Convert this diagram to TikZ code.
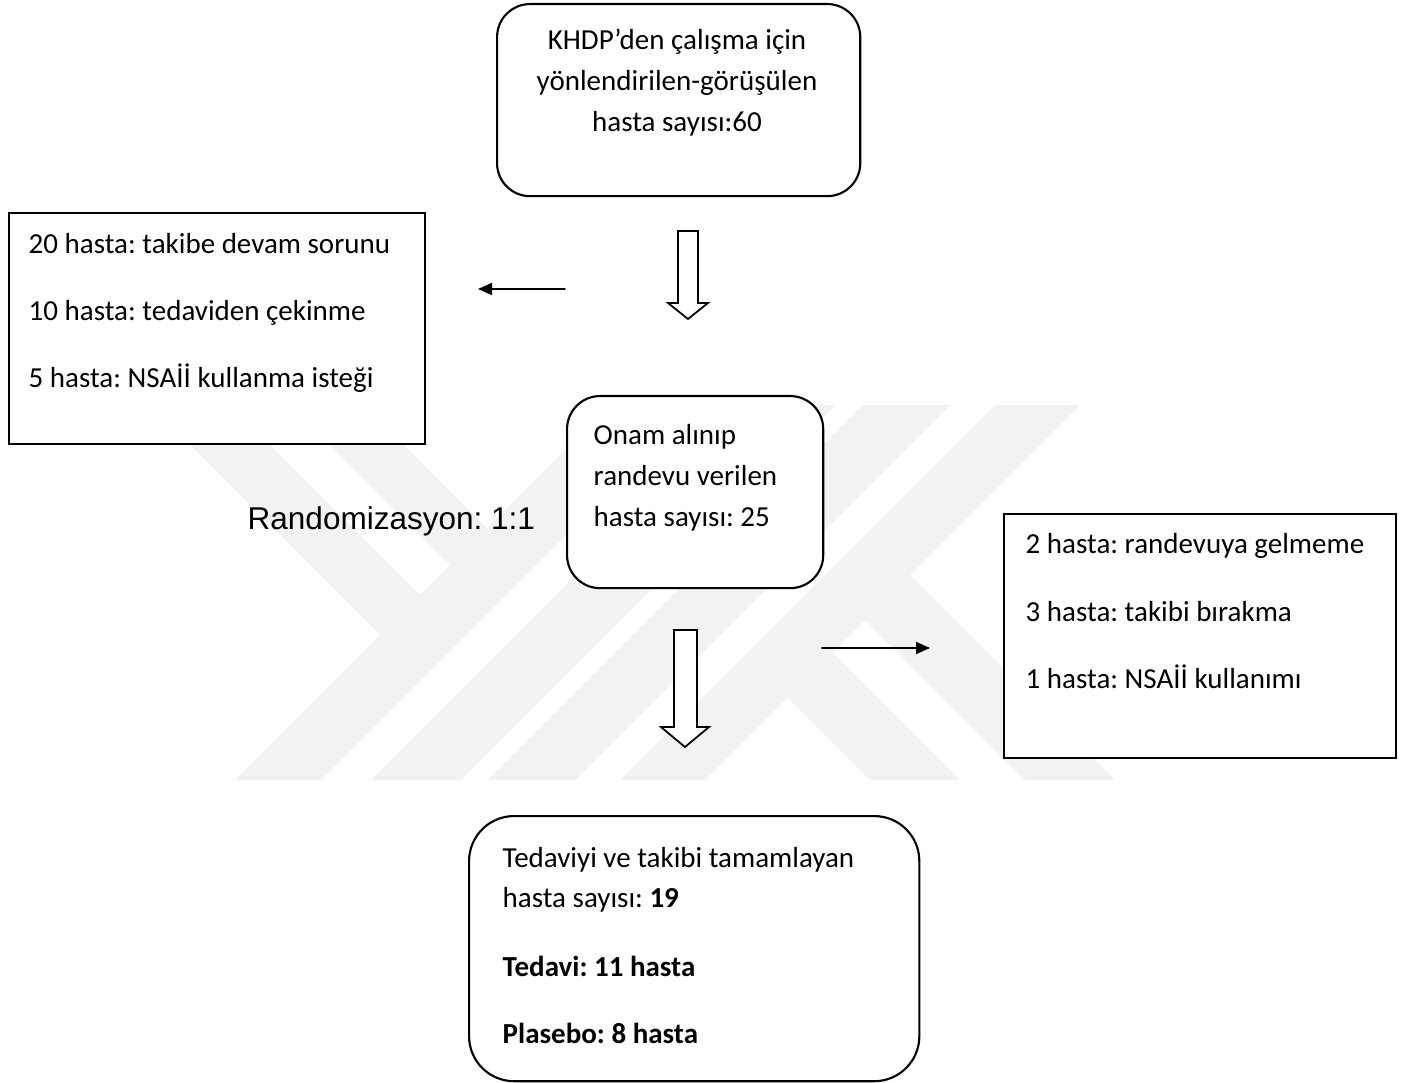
\documentclass[tikz,border=0pt]{standalone}
\usepackage{fontspec}
\setmainfont{Carlito}
\newfontfamily\arialfont{Liberation Sans}
\usetikzlibrary{arrows.meta}
\frenchspacing

\tikzset{
  box/.style = {draw, fill = white, line width = 0.6pt, inner sep = 0pt,
    anchor = north west},
  rbox/.style = {box, rounded corners = 0.33cm},
  txt/.style = {anchor = base west, inner sep = 0pt,
    font = \fontsize{8.25}{10}\selectfont},
  ctxt/.style = {txt, anchor = base},
  thinarrow/.style = {line width = 0.5pt,
    -{Triangle[length = 0.14cm, width = 0.12cm]}},
  blockarrow/.style = {draw, fill = white, line width = 0.5pt,
    line join = miter},
  wm/.style = {fill = black!5}
}

\begin{document}
\begin{tikzpicture}[x = 0.01cm, y = -0.01cm, line cap = round]
  \path[use as bounding box, fill = white] (0, 0) rectangle (1410, 1083);

  \fill[wm] (150, 405) -- (230, 405) -- (420, 595) -- (380, 635) -- cycle;
  \fill[wm] (290, 405) -- (363, 405) -- (487, 528) -- (450, 565) -- cycle;
  \fill[wm] (610, 405) -- (696, 405) -- (321, 780) -- (235, 780) -- cycle;
  \fill[wm] (746, 405) -- (836, 405) -- (461, 780) -- (371, 780) -- cycle;
  \fill[wm] (863, 405) -- (950, 405) -- (575, 780) -- (488, 780) -- cycle;
  \fill[wm] (995, 405) -- (1080, 405) -- (705, 780) -- (620, 780) -- cycle;
  \fill[wm] (788, 698) -- (833, 653) -- (960, 780) -- (870, 780) -- cycle;
  \fill[wm] (865, 620) -- (910, 575) -- (1115, 780) -- (1025, 780) -- cycle;

  \node[rbox, minimum width = 3.63cm, minimum height = 1.92cm] (start)
  at (496, 3) {};
  \node[box, minimum width = 4.16cm, minimum height = 2.31cm] (drop1)
  at (8, 212) {};
  \node[rbox, minimum width = 2.56cm, minimum height = 1.92cm] (onam)
  at (566, 395) {};
  \node[box, minimum width = 3.92cm, minimum height = 2.44cm] (drop2)
  at (1003, 513) {};
  \node[rbox, rounded corners = 0.45cm, minimum width = 4.5cm,
  minimum height = 2.65cm] (final) at (468, 815) {};

  \foreach \t [count = \i] in {KHDP’den çalışma için,
    yönlendirilen-görüşülen, hasta sayısı:60}
    \node[ctxt] (start\i) at (677, {9 + 41*\i}) {\t};

  \foreach \t [count = \i] in {20 hasta: takibe devam sorunu,
    10 hasta: tedaviden çekinme, 5 hasta: NSAİİ kullanma isteği}
    \node[txt] (dropa\i) at (28, {187 + 67*\i}) {\t};

  \foreach \t [count = \i] in {Onam alınıp, randevu verilen,
    hasta sayısı: 25}
    \node[txt] (onam\i) at (593, {404 + 41*\i}) {\t};

  \foreach \t [count = \i] in {2 hasta: randevuya gelmeme,
    3 hasta: takibi bırakma, 1 hasta: NSAİİ kullanımı}
    \node[txt] (dropb\i) at (1025, {487 + 67*\i}) {\t};

  \node[txt] (final1) at (502, 867) {Tedaviyi ve takibi tamamlayan};
  \node[txt] (final2) at (502, 907) {hasta sayısı: \textbf{19}};
  \node[txt] (final3) at (502, 976) {\textbf{Tedavi: 11 hasta}};
  \node[txt] (final4) at (502, 1043) {\textbf{Plasebo: 8 hasta}};

  \node[anchor = base west, inner sep = 0pt,
  font = \arialfont\fontsize{8.96}{10}\selectfont] (rand) at (247, 530)
  {Randomizasyon: 1:1};

  \coordinate (L1) at (565, 289);
  \coordinate (L2) at (478, 289);
  \coordinate (R1) at (822, 648);
  \coordinate (R2) at (930, 648);
  \draw[thinarrow] (L1) -- (L2);
  \draw[thinarrow] (R1) -- (R2);

  \draw[blockarrow] (678, 231) -- ++(20, 0) -- ++(0, 72) -- ++(10, 0)
  -- (688, 319) -- (668, 303) -- ++(10, 0) -- cycle;
  \draw[blockarrow] (674, 630) -- ++(23, 0) -- ++(0, 97) -- ++(12, 0)
  -- (685, 747) -- (661, 727) -- ++(13, 0) -- cycle;
\end{tikzpicture}
\end{document}
